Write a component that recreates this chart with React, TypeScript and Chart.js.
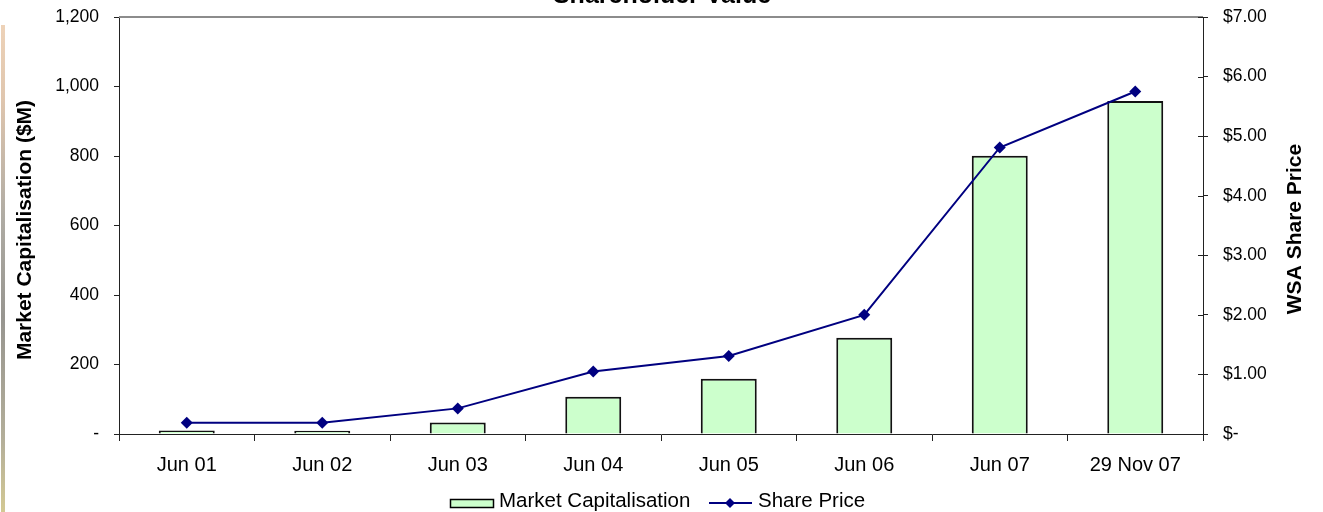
import React, { useEffect, useRef } from 'react';
import { Chart, registerables } from 'chart.js';

Chart.register(...registerables);

const FONT = "'Liberation Sans', Arial, sans-serif";

const chartTitle = 'Shareholder Value';
const leftAxisTitle = 'Market Capitalisation ($M)';
const rightAxisTitle = 'WSA Share Price';

const categories = ['Jun 01', 'Jun 02', 'Jun 03', 'Jun 04', 'Jun 05', 'Jun 06', 'Jun 07', '29 Nov 07'];
const marketCap = [10, 9, 33, 107, 159, 277, 801, 958];
const sharePrice = [0.19, 0.19, 0.43, 1.05, 1.31, 2.0, 4.81, 5.75];

const seriesNames = ['Market Capitalisation', 'Share Price'];

const barFill = '#CCFFCC';
const lineColor = '#000080';

const decorPlugin = {
  id: 'decor',
  afterDraw(chart: any) {
    const ctx = chart.ctx as CanvasRenderingContext2D;
    const a = chart.chartArea;
    ctx.save();
    // plot area top border
    ctx.strokeStyle = '#8c8c8c';
    ctx.lineWidth = 2;
    ctx.beginPath();
    ctx.moveTo(a.left, a.top);
    ctx.lineTo(a.right, a.top);
    ctx.stroke();

    // right axis inner tick marks
    const y1 = chart.scales.y1;
    ctx.strokeStyle = '#222';
    ctx.lineWidth = 1;
    y1.ticks.forEach((_t: any, i: number) => {
      const py = Math.round(y1.getPixelForTick(i)) + 0.5;
      ctx.beginPath();
      ctx.moveTo(a.right - 5, py);
      ctx.lineTo(a.right, py);
      ctx.stroke();
    });

    // chart title (mostly cropped at top)
    ctx.fillStyle = '#000';
    ctx.textAlign = 'center';
    ctx.textBaseline = 'alphabetic';
    ctx.font = `bold 25px ${FONT}`;
    ctx.fillText(chartTitle, 662, 3);

    // axis titles
    ctx.font = `bold 21px ${FONT}`;
    ctx.textBaseline = 'middle';
    ctx.save();
    ctx.translate(25, 230);
    ctx.rotate(-Math.PI / 2);
    ctx.fillText(leftAxisTitle, 0, 0);
    ctx.restore();
    ctx.save();
    ctx.translate(1295, 229);
    ctx.rotate(-Math.PI / 2);
    ctx.fillText(rightAxisTitle, 0, 0);
    ctx.restore();

    // legend
    ctx.fillStyle = barFill;
    ctx.fillRect(450, 499, 44, 8);
    ctx.strokeStyle = '#000';
    ctx.lineWidth = 1.5;
    ctx.strokeRect(450.5, 499.5, 43, 8);
    ctx.fillStyle = '#000';
    ctx.font = `20.5px ${FONT}`;
    ctx.textAlign = 'left';
    ctx.textBaseline = 'alphabetic';
    ctx.fillText(seriesNames[0], 499, 507);
    ctx.strokeStyle = lineColor;
    ctx.lineWidth = 2;
    ctx.beginPath();
    ctx.moveTo(709, 503);
    ctx.lineTo(752, 503);
    ctx.stroke();
    ctx.fillStyle = lineColor;
    ctx.beginPath();
    ctx.moveTo(730, 498);
    ctx.lineTo(735, 503);
    ctx.lineTo(730, 508);
    ctx.lineTo(725, 503);
    ctx.closePath();
    ctx.fill();
    ctx.fillStyle = '#000';
    ctx.fillText(seriesNames[1], 758, 507);
    ctx.restore();
  },
};

export default function App() {
  const ref = useRef<HTMLCanvasElement | null>(null);

  useEffect(() => {
    if (!ref.current) return;
    const chart = new Chart(ref.current, {
      type: 'bar',
      data: {
        labels: categories,
        datasets: [
          {
            type: 'line',
            label: seriesNames[1],
            data: sharePrice,
            yAxisID: 'y1',
            borderColor: lineColor,
            backgroundColor: lineColor,
            borderWidth: 2,
            pointStyle: 'rectRot',
            pointRadius: 6,
            pointBackgroundColor: lineColor,
            pointBorderColor: lineColor,
            pointBorderWidth: 0,
            tension: 0,
            order: 0,
          } as any,
          {
            type: 'bar',
            label: seriesNames[0],
            data: marketCap,
            yAxisID: 'y',
            backgroundColor: barFill,
            borderColor: '#111',
            borderWidth: 2,
            barPercentage: 0.413,
            categoryPercentage: 1,
            order: 1,
          } as any,
        ],
      },
      options: {
        responsive: false,
        animation: false,
        layout: { padding: { top: 17, left: 0, right: 0, bottom: 0 } },
        plugins: {
          legend: { display: false },
          title: { display: false },
          tooltip: { enabled: false },
        },
        scales: {
          x: {
            offset: true,
            grid: {
              offset: true,
              drawOnChartArea: false,
              drawTicks: true,
              tickLength: 7,
              color: '#222',
              tickColor: '#222',
            },
            border: { display: true, color: '#222', width: 1 },
            ticks: {
              color: '#000',
              font: { family: FONT, size: 20 },
              padding: 12,
              maxRotation: 0,
              autoSkip: false,
            },
            afterFit: (s: any) => {
              s.height = 78;
              s.paddingLeft = 0;
              s.paddingRight = 0;
            },
          },
          y: {
            position: 'left',
            min: 0,
            max: 1200,
            ticks: {
              stepSize: 200,
              color: '#000',
              font: { family: FONT, size: 17.5 },
              padding: 15,
              callback: (v: any) => (Number(v) === 0 ? '-' : Number(v).toLocaleString('en-US')),
            },
            grid: {
              drawOnChartArea: false,
              drawTicks: true,
              tickLength: 5,
              color: '#222',
              tickColor: '#222',
            },
            border: { display: true, color: '#222', width: 1 },
            afterFit: (s: any) => {
              s.width = 119;
              s.paddingTop = 0;
              s.paddingBottom = 0;
            },
          },
          y1: {
            position: 'right',
            min: 0,
            max: 7,
            ticks: {
              stepSize: 1,
              color: '#000',
              font: { family: FONT, size: 17.5 },
              padding: 15,
              callback: (v: any) => (Number(v) === 0 ? '$-' : '$' + Number(v).toFixed(2)),
            },
            grid: {
              drawOnChartArea: false,
              drawTicks: true,
              tickLength: 5,
              color: '#222',
              tickColor: '#222',
            },
            border: { display: true, color: '#222', width: 1 },
            afterFit: (s: any) => {
              s.width = 120;
              s.paddingTop = 0;
              s.paddingBottom = 0;
            },
          },
        },
      } as any,
      plugins: [decorPlugin],
    });
    return () => chart.destroy();
  }, []);

  return (
    <div style={{ position: 'fixed', left: 0, top: 0, width: 1323, height: 512, background: '#fff' }}>
      <canvas ref={ref} width={1323} height={512} style={{ display: 'block' }} />
      <div
        style={{
          position: 'absolute',
          left: 1,
          top: 25,
          width: 4,
          height: 487,
          background: 'linear-gradient(to bottom, #e9c7a6 0%, #d8b89a 15%, #9a968c 40%, #7d7b74 60%, #a09a80 85%, #c8bb78 100%)',
          opacity: 0.8,
        }}
      />
    </div>
  );
}
